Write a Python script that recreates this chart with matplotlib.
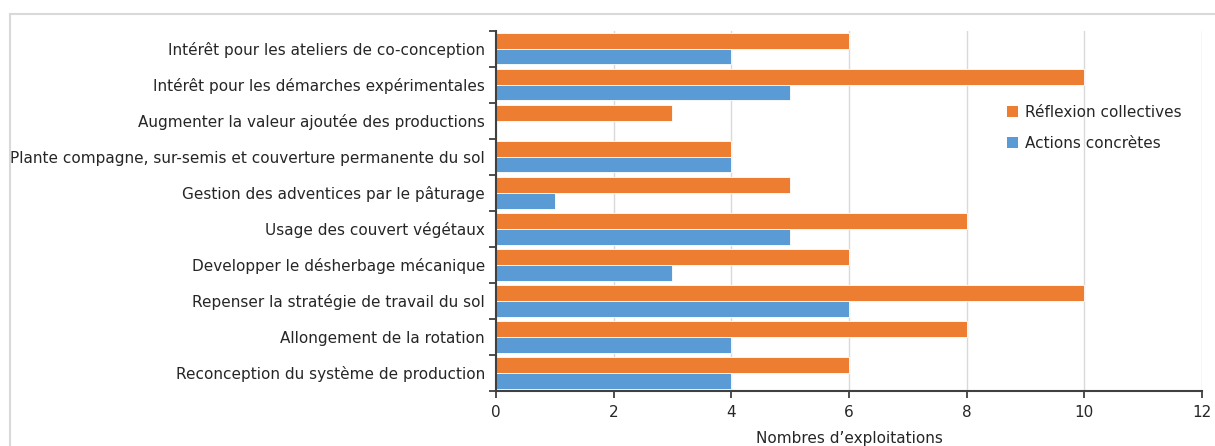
import matplotlib
matplotlib.use("Agg")
import matplotlib.pyplot as plt
from matplotlib.lines import Line2D
from matplotlib.patches import Patch
import numpy as np

plt.rcParams['font.family'] = ['DejaVu Sans']

categories = [
    "Intérêt pour les ateliers de co-conception",
    "Intérêt pour les démarches expérimentales",
    "Augmenter la valeur ajoutée des productions",
    "Plante compagne, sur-semis et couverture permanente du sol",
    "Gestion des adventices par le pâturage",
    "Usage des couvert végétaux",
    "Developper le désherbage mécanique",
    "Repenser la stratégie de travail du sol",
    "Allongement de la rotation",
    "Reconception du système de production",
]
reflexion = [6, 10, 3, 4, 5, 8, 6, 10, 8, 6]
actions = [4, 5, 0, 4, 1, 5, 3, 6, 4, 4]
series_names = ["Réflexion collectives", "Actions concrètes"]
xticks = [0, 2, 4, 6, 8, 10, 12]

orange = "#ED7D31"
blue = "#5B9BD5"
text_col = "#262626"
axis_col = "#404040"
fs = 11

fig = plt.figure(figsize=(12.15, 4.46), dpi=100)
ax = fig.add_axes([0.4082, 0.1233, 0.9893 - 0.4082, 0.9312 - 0.1233])

y = np.arange(len(categories))
h = 0.435
ax.barh(y - h / 2, reflexion, height=h, color=orange, edgecolor="white",
        linewidth=0.6, zorder=3)
ax.barh(y + h / 2, actions, height=h, color=blue, edgecolor="white",
        linewidth=0.6, zorder=3)

ax.set_ylim(len(categories) - 0.5, -0.5)
ax.set_xlim(0, 12)
ax.set_xticks(xticks)
ax.set_xticklabels([str(v) for v in xticks], fontsize=fs, color=text_col)
ax.set_yticks(y)
ax.set_yticklabels(categories, fontsize=fs, color=text_col)
ax.set_yticks(np.arange(len(categories) + 1) - 0.5, minor=True)
ax.tick_params(axis="y", which="major", length=0, pad=8)
ax.tick_params(axis="y", which="minor", length=5, width=1.3, color=axis_col)
ax.tick_params(axis="x", which="major", length=5, width=1.3, color=axis_col, pad=5)

ax.grid(axis="x", color="#d9d9d9", linewidth=1.0, zorder=0)
ax.set_axisbelow(True)
for s in ["top", "right"]:
    ax.spines[s].set_visible(False)
for s in ["left", "bottom"]:
    ax.spines[s].set_color(axis_col)
    ax.spines[s].set_linewidth(1.5)
    ax.spines[s].set_zorder(4)

ax.set_xlabel("Nombres d\u2019exploitations", fontsize=fs, color=text_col, labelpad=8)

handles = [Patch(facecolor=orange, edgecolor="none"), Patch(facecolor=blue, edgecolor="none")]
leg = fig.legend(handles, series_names, loc="center left",
                 bbox_to_anchor=(993 / 1215, 1 - 128 / 446), frameon=False,
                 fontsize=fs, handlelength=0.75, handleheight=0.75,
                 handletextpad=0.45, labelspacing=1.05)
for t in leg.get_texts():
    t.set_color(text_col)

# outer frame of the chart area
fig.add_artist(Line2D([9.5 / 1215, 1.0], [1 - 14 / 446, 1 - 14 / 446],
                      transform=fig.transFigure, color="#d9d9d9", linewidth=1.5))
fig.add_artist(Line2D([9.5 / 1215, 9.5 / 1215], [0.0, 1 - 14 / 446],
                      transform=fig.transFigure, color="#d9d9d9", linewidth=1.5))

fig.savefig("out.png", dpi=100)
